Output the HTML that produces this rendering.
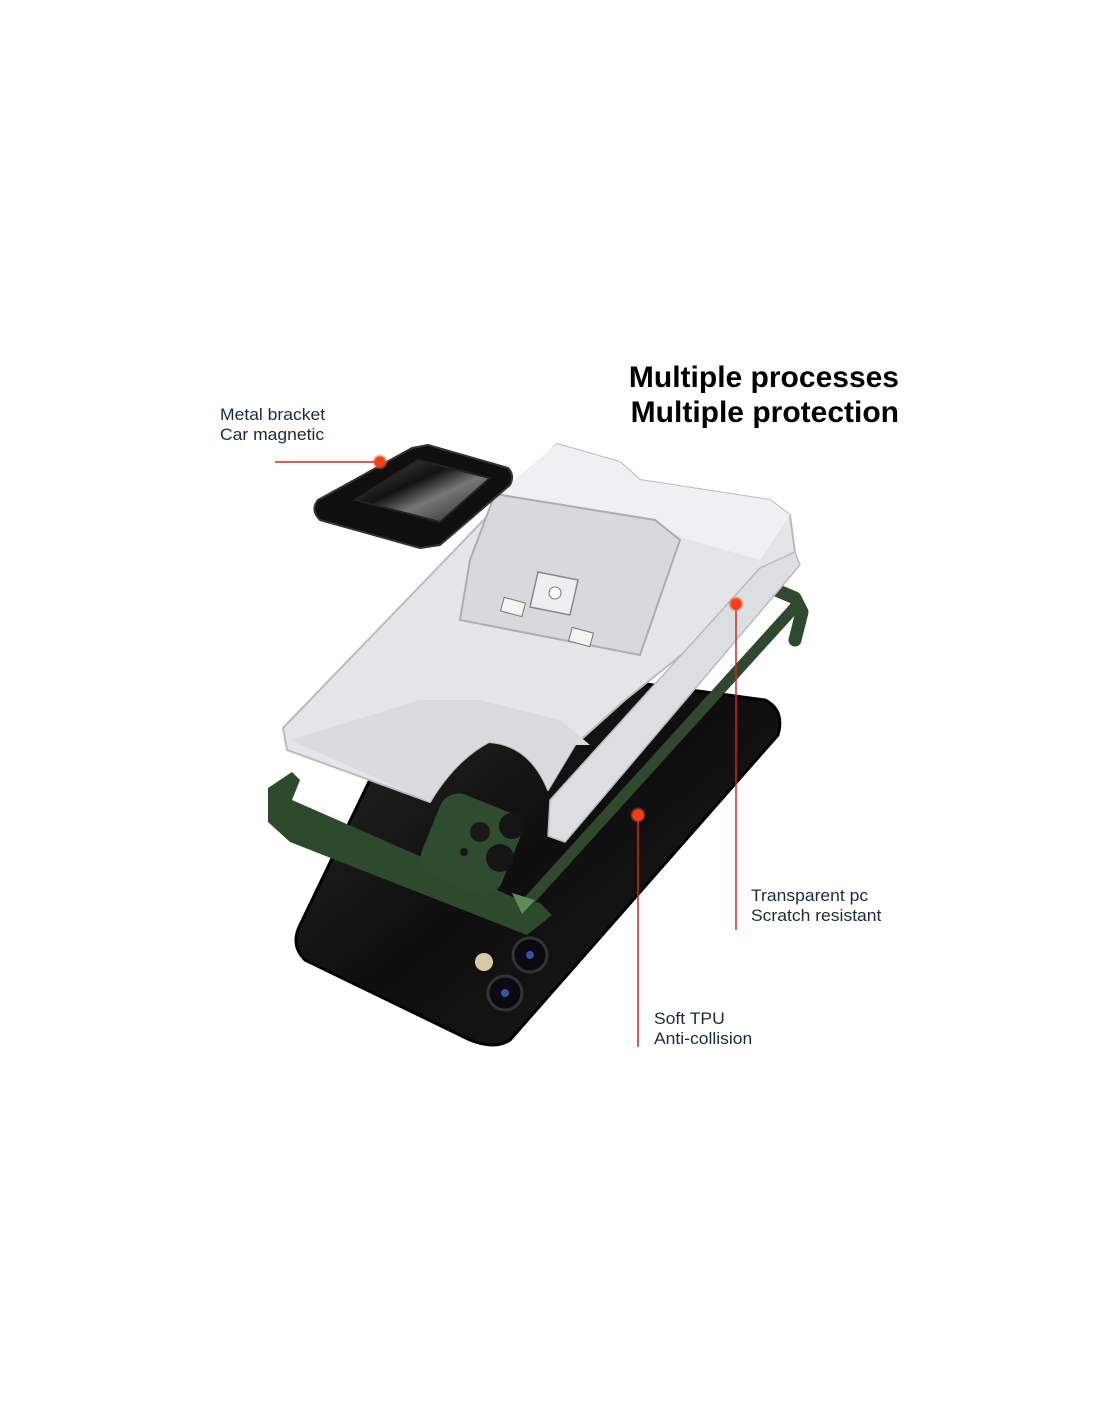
<!DOCTYPE html>
<html><head><meta charset="utf-8"><style>
html,body{margin:0;padding:0;background:#fff;}
body{width:1100px;height:1422px;position:relative;overflow:hidden;font-family:"Liberation Sans",sans-serif;}
.t{position:absolute;color:#1c2b3c;font-size:17px;line-height:20px;transform:scaleX(1.03);transform-origin:left top;}
.h{position:absolute;right:201px;top:360px;font-weight:bold;font-size:30px;line-height:35px;text-align:right;color:#000;}
</style></head><body>
<svg width="1100" height="1422" style="position:absolute;left:0;top:0">
<defs>
<linearGradient id="ph" x1="0" y1="0" x2="1" y2="1"><stop offset="0" stop-color="#2a2a2a"/><stop offset="0.5" stop-color="#0e0e0e"/><stop offset="1" stop-color="#1d1d1d"/></linearGradient>
<radialGradient id="dot"><stop offset="0" stop-color="#ff3a10"/><stop offset="0.6" stop-color="#f0401a"/><stop offset="1" stop-color="#f06040" stop-opacity="0"/></radialGradient>
<linearGradient id="mt" x1="0" y1="0" x2="1" y2="1"><stop offset="0" stop-color="#555"/><stop offset="0.4" stop-color="#111"/><stop offset="0.6" stop-color="#777"/><stop offset="1" stop-color="#222"/></linearGradient>
</defs>
<path d="M430,655 L765,700 Q785,710 778,735 L510,1040 Q495,1050 470,1040 L305,960 Q290,945 300,925 Z" fill="url(#ph)" stroke="#000" stroke-width="3" stroke-linejoin="round"/>
<circle cx="484" cy="962" r="9" fill="#d8c9a6"/>
<circle cx="530" cy="955" r="17" fill="#0a0a12" stroke="#333" stroke-width="3"/>
<circle cx="505" cy="993" r="17" fill="#0a0a12" stroke="#333" stroke-width="3"/>
<circle cx="530" cy="955" r="4" fill="#3a50a0"/><circle cx="505" cy="993" r="4" fill="#3a50a0"/>
<line x1="525" y1="905" x2="795" y2="607" stroke="#30482f" stroke-width="11" stroke-linecap="round"/>
<path d="M776,590 L795,598 L802,612 L795,640" fill="none" stroke="#2f4a2e" stroke-width="13" stroke-linecap="round" stroke-linejoin="round"/>
<path d="M268,788 L292,772 L300,780 L292,800 L515,898 L540,903 L552,915 L527,935 L290,842 L268,822 Z" fill="#2e4a2d"/>
<rect x="428" y="800" width="86" height="88" rx="20" fill="#2f4b30" transform="rotate(22 470 844)"/>
<circle cx="480" cy="832" r="10" fill="#1a1a1a"/><circle cx="500" cy="858" r="14" fill="#151515"/><circle cx="512" cy="826" r="13" fill="#151515"/><circle cx="464" cy="852" r="4" fill="#151515"/>
<path d="M512,893 L535,900 L522,914 Z" fill="#5d8a5a"/>
<path d="M557,444 L620,462 L640,480 L770,500 L790,515 L795,552 L760,570 L700,640 L625,700 L575,745 L548,790 Q530,745 489,742 Q455,760 430,802 L287,750 L283,728 Z" fill="#e3e5e7" stroke="#b8bcc0" stroke-width="2" stroke-linejoin="round"/>
<path d="M795,552 L800,565 L565,842 L548,836 L550,800 L760,568 Z" fill="#dcdfe2" stroke="#b8bcc0" stroke-width="1.5" stroke-linejoin="round"/>
<path d="M557,444 L620,462 L640,480 L770,500 L790,515 L760,560 L690,540 L630,520 L565,505 L520,560 L490,500 Z" fill="#eef0f1"/>
<path d="M290,740 L420,700 L480,700 L560,720 L590,745 L575,745 L548,790 Q530,745 489,742 Q455,760 430,802 Z" fill="#d9dcdf"/>
<path d="M495,494 L655,520 L680,540 L640,655 L460,620 L470,560 Z" fill="#d7dadd" stroke="#a9aeb3" stroke-width="2"/>
<path d="M538,572 L578,580 L570,615 L530,607 Z" fill="#eceef0" stroke="#888" stroke-width="1.5"/>
<circle cx="555" cy="593" r="6" fill="#fff" stroke="#777"/>
<rect x="502" y="600" width="22" height="14" fill="#f4f4f4" stroke="#777" transform="rotate(15 513 607)"/>
<rect x="570" y="630" width="22" height="14" fill="#f4f4f4" stroke="#777" transform="rotate(15 581 637)"/>
<path d="M428,445 L508,468 Q515,475 510,485 L440,545 L420,548 L320,520 Q310,510 318,500 L412,448 Z" fill="#0f0f0f" stroke="#333" stroke-width="2" stroke-linejoin="round"/>
<path d="M418,460 L490,478 L440,522 L355,500 Z" fill="url(#mt)" stroke="#222" stroke-width="2"/>
<line x1="275" y1="462" x2="380" y2="462" stroke="#d8261a" stroke-width="1.5"/>
<line x1="736" y1="605" x2="736" y2="930" stroke="#d8261a" stroke-width="1.5"/>
<line x1="638" y1="815" x2="638" y2="1047" stroke="#d8261a" stroke-width="1.5"/>
<circle cx="380" cy="462" r="8" fill="url(#dot)"/>
<circle cx="736" cy="604" r="8" fill="url(#dot)"/>
<circle cx="638" cy="815" r="8" fill="url(#dot)"/>
</svg>
<div class="h">Multiple processes<br>Multiple protection</div>
<div class="t" style="left:220px;top:405px">Metal bracket<br>Car magnetic</div>
<div class="t" style="left:751px;top:886px">Transparent pc<br>Scratch resistant</div>
<div class="t" style="left:654px;top:1009px">Soft TPU<br>Anti-collision</div>
</body></html>
